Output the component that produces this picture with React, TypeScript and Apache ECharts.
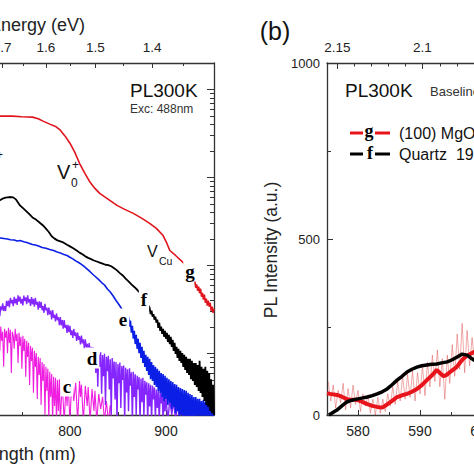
import React, { useEffect, useRef } from "react";
import * as echarts from "echarts";

const HC = 1239.84; // eV·nm
const OX = 300; // chart is shifted left so the cropped panels line up

// ---------- panel (a) axes ----------
const WL_A_LABELS = [800, 900];
const WL_A_MAJOR = [600, 700, 800, 900];
const WL_A_MINOR = [550, 650, 750, 850];
const EV_A_MAJOR = [1.7, 1.6, 1.5, 1.4];
const EV_A_MINOR = [1.65, 1.55, 1.45, 1.35];
const LOG_MAJOR = [10, 100, 1000, 10000];
const LOG_MINOR = [3, 4, 5, 6, 7, 8, 9, 20, 30, 40, 50, 60, 70, 80, 90, 200, 300, 400, 500, 600, 700, 800, 900, 2000, 3000, 4000, 5000, 6000, 7000, 8000, 9000];

// ---------- panel (a) spectra: [wavelength nm, PL counts] ----------
const PL_C: [number, number][] = [
  [720, 18.1], [721, 12.2], [722, 19.6], [723, 15.5], [724, 8.7], [725, 18.6], [726, 16.7], [727, 10.7], [728, 20.2], [729, 13.9],
  [730, 17.6], [731, 7.05], [732, 19.1], [733, 15.1], [734, 18.1], [735, 10.1], [736, 19.6], [737, 13.2], [738, 18.6], [739, 6.0],
  [740, 17.6], [741, 15.9], [742, 11.3], [743, 19.1], [744, 13.9], [745, 16.7], [746, 7.8], [747, 17.2], [748, 12.2], [749, 15.5],
  [750, 6.7], [751, 15.9], [752, 10.7], [753, 14.7], [754, 5.45], [755, 13.9], [756, 9.15], [757, 13.2], [758, 4.4], [759, 12.2],
  [760, 8.24], [761, 11.6], [762, 3.57], [763, 10.7], [764, 7.05], [765, 10.1], [766, 3.05], [767, 9.15], [768, 5.7], [769, 8.9],
  [770, 2.6], [771, 8.0], [772, 4.88], [773, 7.6], [774, 2.0], [775, 7.05], [776, 3.76], [777, 6.7], [778, 1.7], [779, 6.2],
  [780, 3.21], [781, 5.85], [782, 1.7], [783, 5.45], [784, 2.54], [785, 5.3], [786, 1.7], [787, 5.0], [788, 2.22], [789, 5.1],
  [790, 1.7], [792, 4.65], [794, 1.7], [796, 4.28], [797, 2.54], [798, 4.88], [800, 1.7], [802, 5.1], [804, 2.89], [806, 4.65],
  [808, 1.7], [810, 4.88], [811, 3.21], [812, 4.4], [814, 1.7], [816, 4.28], [818, 2.54], [819, 4.17], [821, 1.7], [823, 3.95],
  [825, 2.22], [826, 3.76], [828, 1.7], [830, 3.47], [832, 2.34], [834, 3.21], [836, 1.7], [838, 2.89], [840, 1.7], [842, 2.6],
  [844, 1.7]
];

const PL_D: [number, number][] = [
  [720, 27.4], [721, 23.4], [722, 28.7], [723, 24.5], [724, 31.9], [725, 27.6], [726, 30.7], [727, 26.6], [728, 34.3], [729, 31.0],
  [730, 37.1], [731, 30.4], [732, 34.5], [733, 30.4], [734, 39.6], [735, 34.6], [736, 39.8], [737, 33.5], [738, 42.9], [739, 37.2],
  [740, 40.7], [741, 34.5], [742, 44.0], [743, 37.2], [744, 42.1], [745, 35.6], [746, 45.8], [747, 38.9], [748, 44.2], [749, 36.8],
  [750, 41.7], [751, 35.2], [752, 45.4], [753, 39.3], [754, 43.4], [755, 36.4], [756, 45.9], [757, 38.0], [758, 41.4], [759, 34.8],
  [760, 43.8], [761, 36.2], [762, 41.7], [763, 34.0], [764, 42.8], [765, 35.8], [766, 38.6], [767, 31.4], [768, 39.2], [769, 32.9],
  [770, 38.7], [771, 31.0], [772, 34.5], [773, 29.0], [774, 36.6], [775, 30.9], [776, 33.1], [777, 27.2], [778, 33.2], [779, 27.8],
  [780, 30.7], [781, 24.4], [782, 31.2], [783, 25.4], [784, 27.5], [785, 23.1], [786, 28.5], [787, 23.9], [788, 25.8], [789, 21.0],
  [790, 26.0], [791, 20.9], [792, 24.0], [793, 19.2], [794, 23.9], [795, 19.5], [796, 21.1], [797, 17.1], [798, 21.1], [799, 17.5],
  [800, 20.6], [801, 16.2], [802, 18.3], [803, 15.0], [804, 19.0], [805, 15.9], [806, 17.4], [807, 13.9], [808, 17.3], [809, 14.3],
  [810, 15.7], [811, 12.7], [812, 16.0], [813, 13.0], [814, 14.5], [815, 11.5], [816, 14.5], [817, 11.6], [818, 12.9], [819, 10.5],
  [820, 13.1], [821, 10.8], [822, 11.9], [823, 9.7], [824, 11.8], [825, 9.1], [826, 10.2], [827, 6.0], [828, 10.9], [829, 4.2],
  [830, 9.8], [831, 7.1], [832, 10.3], [833, 3.5], [834, 9.6], [835, 5.5], [836, 9.9], [837, 2.6], [838, 9.2], [839, 6.3],
  [840, 9.4], [841, 3.9], [842, 8.6], [843, 2.0], [844, 8.9], [845, 5.2], [846, 8.1], [847, 3.0], [848, 8.0], [849, 1.7],
  [850, 7.6], [851, 4.6], [852, 7.9], [853, 2.4], [854, 7.2], [855, 5.0], [856, 7.3], [857, 1.7], [858, 6.9], [859, 3.6],
  [860, 6.6], [861, 2.2], [862, 6.8], [863, 4.3], [864, 6.1], [865, 1.7], [866, 6.2], [867, 3.2], [868, 5.8], [869, 2.0],
  [870, 5.6], [871, 3.9], [872, 5.4], [873, 1.7], [874, 5.2], [875, 2.8], [876, 5.3], [877, 1.9], [878, 4.9], [879, 3.4],
  [880, 4.7], [881, 1.7], [882, 4.6], [883, 2.5], [884, 4.4], [885, 1.7], [886, 4.3], [887, 3.0], [888, 4.1], [889, 1.8],
  [890, 3.9], [891, 2.4], [892, 3.8], [893, 1.7], [894, 3.6], [895, 2.7], [896, 3.5], [897, 1.7], [898, 3.3], [899, 2.2],
  [900, 3.2], [902, 1.7], [904, 3.05], [906, 2.0], [908, 2.9], [910, 1.7], [912, 2.7], [914, 1.8], [916, 2.5], [918, 1.7],
  [920, 2.35], [922, 1.7], [924, 2.2], [926, 1.7], [928, 2.1], [930, 1.7]
];

const PL_E: [number, number][] = [
  [720, 214], [724, 210], [727, 206], [731, 203], [735, 200], [738, 196], [742, 195], [745, 190], [748, 192], [752, 186],
  [755, 182], [758, 178], [761, 173], [765, 170], [768, 165], [771, 160], [775, 157], [779, 152], [783, 148], [786, 143],
  [790, 139], [793, 134], [797, 130], [800, 124], [803, 119], [806, 113], [809, 108], [812, 103], [815, 97], [818, 91],
  [821, 85], [824, 79], [827, 74], [830, 69], [833, 64], [836, 60], [839, 54], [842, 50], [845, 45], [848, 40],
  [851, 36], [854, 32], [857, 29.8], [858, 24.9], [859, 28.0], [860, 22.4], [861, 26.2], [862, 20.2], [863, 23.6], [864, 17.2],
  [865, 20.7], [866, 14.7], [867, 18.1], [868, 12.8], [869, 16.3], [870, 11.3], [871, 14.7], [872, 10.1], [873, 13.2], [874, 8.9],
  [875, 11.9], [876, 7.8], [877, 10.7], [878, 7.05], [879, 9.65], [880, 6.35], [881, 9.15], [882, 5.7], [883, 8.7], [884, 5.1],
  [885, 8.0], [886, 4.88], [887, 7.4], [888, 4.4], [889, 7.05], [890, 4.17], [891, 6.7], [892, 3.76], [893, 6.35], [894, 3.57],
  [895, 6.0], [896, 3.21], [897, 5.85], [898, 2.89], [899, 5.57], [900, 3.05], [901, 5.3], [902, 2.6], [903, 5.1], [904, 2.75],
  [905, 4.88], [906, 2.34], [907, 4.75], [908, 2.47], [909, 4.5], [910, 2.1], [911, 4.4], [912, 2.22], [913, 4.17], [914, 1.9],
  [915, 4.05], [916, 2.0], [917, 3.95], [918, 1.7], [919, 3.85], [920, 1.9], [921, 3.76], [922, 1.7], [923, 3.57], [924, 1.8],
  [925, 3.47], [926, 1.7], [927, 3.38], [928, 1.8], [929, 3.21], [930, 1.7], [931, 3.21], [932, 1.8], [933, 3.05], [934, 1.7],
  [935, 3.05], [936, 1.7], [937, 2.89], [938, 1.7], [939, 2.97], [940, 1.7], [941, 2.82], [942, 1.7], [943, 2.75], [944, 1.7],
  [945, 2.75], [946, 1.7], [947, 2.6], [948, 1.7], [949, 2.6], [950, 1.7]
];

const PL_F: [number, number][] = [
  [720, 482], [724, 520], [727, 550], [730, 575], [733, 590], [737, 600], [741, 595], [744, 560], [748, 482], [752, 440],
  [755, 410], [758, 380], [761, 352], [765, 330], [768, 310], [772, 285], [775, 262], [778, 240], [781, 215], [784, 202],
  [787, 193], [790, 188], [793, 183], [797, 172], [800, 165], [803, 158], [807, 148], [810, 140], [813, 134], [816, 127],
  [819, 122], [822, 118], [825, 114], [828, 111], [831, 108], [834, 105], [837, 102], [840, 101], [843, 98], [846, 93],
  [849, 88], [852, 82], [855, 77], [858, 71], [861, 66], [864, 61], [867, 57], [870, 53], [873, 49], [876, 45],
  [879, 40], [881, 36], [883, 33.1], [884, 28.0], [885, 30.6], [886, 26.2], [887, 28.0], [888, 24.2], [889, 26.2], [890, 22.4],
  [891, 24.2], [892, 19.6], [893, 22.4], [894, 18.1], [895, 20.2], [896, 16.7], [897, 19.1], [898, 15.5], [899, 18.1], [900, 14.7],
  [901, 17.2], [902, 13.5], [903, 16.3], [904, 12.8], [905, 15.5], [906, 11.9], [907, 14.3], [908, 10.7], [909, 13.2], [910, 9.9],
  [911, 11.9], [912, 8.9], [913, 11.3], [914, 8.24], [915, 10.7], [916, 7.8], [917, 10.1], [918, 7.05], [919, 9.65], [920, 6.5],
  [921, 9.15], [922, 6.0], [923, 8.7], [924, 5.7], [925, 8.7], [926, 5.1], [927, 8.24], [928, 4.88], [929, 7.8], [930, 4.4],
  [931, 7.8], [932, 4.17], [933, 7.4], [934, 3.76], [935, 8.24], [936, 3.57], [937, 7.05], [938, 3.21], [939, 6.7], [940, 2.89],
  [941, 7.05], [942, 2.6], [943, 6.35], [944, 2.47], [945, 6.0], [946, 2.22], [947, 5.1], [948, 2.1], [949, 4.4], [950, 2.0]
];

const PL_G: [number, number][] = [
  [720, 5110], [727, 4980], [740, 4980], [750, 4900], [761, 4850], [767, 4650], [772, 4370], [779, 4040], [785, 3800], [790, 3450],
  [795, 2950], [800, 2450], [805, 1940], [810, 1450], [815, 1145], [821, 881], [826, 752], [831, 660], [840, 564], [849, 482],
  [857, 434], [866, 391], [875, 343], [883, 301], [890, 264], [897, 219], [901, 178], [904, 148], [910, 130], [918, 108],
  [925, 83], [930, 67.3], [931, 55.9], [932, 61.2], [933, 51.7], [934, 57.5], [935, 48.4], [936, 54.6], [937, 44.2], [938, 49.0],
  [939, 41.0], [940, 46.6], [941, 37.7], [942, 42.0], [943, 34.9], [944, 39.8], [945, 34.0], [946, 37.7], [947, 30.6], [948, 34.0],
  [949, 29.0], [950, 32.2]
];

// ---------- panel (b) axes ----------
const WL_B_LABELS = [580, 590, 600];
const WL_B_MINOR = [585, 595, 605];
const EV_B_MAJOR = [2.15, 2.1, 2.05];
const EV_B_MINOR = [2.14, 2.13, 2.12, 2.11, 2.09, 2.08, 2.07, 2.06];

// ---------- panel (b) spectra ----------
const B_RAW_G: [number, number][] = [
  [575.2, 95], [575.6, 40], [576.0, 85], [576.4, 20], [576.8, 70], [577.2, 35], [577.6, 90], [578.0, 15], [578.4, 75], [578.8, 20],
  [579.2, 85], [579.6, 30], [580.0, 70], [580.4, 10], [580.8, 60], [581.2, 25], [581.6, 55], [582.0, 5], [582.4, 45], [582.8, 0],
  [583.2, 50], [583.6, 5], [584.0, 45], [584.4, 10], [584.8, 60], [585.2, 25], [585.6, 80], [586.0, 30], [586.4, 95], [586.8, 40],
  [587.2, 110], [587.6, 45], [588.0, 115], [588.4, 50], [588.8, 125], [589.2, 40], [589.6, 120], [590.0, 60], [590.4, 140], [590.8, 55],
  [591.2, 150], [591.6, 80], [592.0, 170], [592.4, 95], [592.8, 185], [593.2, 80], [593.6, 160], [594.0, 45], [594.4, 170], [594.8, 90],
  [595.2, 200], [595.6, 110], [596.0, 230], [596.4, 130], [596.8, 260], [597.2, 120], [597.6, 240], [598.0, 140], [598.4, 220], [598.8, 150],
  [599.2, 230], [599.6, 160], [600.0, 210]
];

const B_SMOOTH_G: [number, number][] = [
  [575.0, 62], [575.5, 60], [576.6, 57], [577.4, 52], [578.2, 45], [579.0, 43], [579.8, 43], [580.6, 38], [581.5, 31], [582.3, 26],
  [583.1, 23], [583.9, 21], [584.7, 30], [585.5, 40], [586.3, 51], [587.1, 56], [587.9, 60], [588.7, 66], [589.5, 74], [590.3, 85],
  [591.1, 99], [591.9, 112], [592.7, 128], [593.3, 118], [593.8, 110], [594.3, 114], [594.7, 120], [595.3, 128], [595.9, 136], [596.5, 150],
  [597.1, 162], [597.6, 168], [598.1, 173], [598.7, 179], [599.4, 185], [600.0, 190]
];

const B_F: [number, number][] = [
  [575.3, 0], [576.6, 14], [577.4, 26], [578.2, 37], [579.0, 42], [579.8, 45], [580.6, 48], [581.5, 51], [582.3, 55], [583.1, 60],
  [583.9, 66], [584.7, 74], [585.5, 86], [586.3, 99], [587.1, 110], [587.9, 122], [588.7, 130], [589.5, 136], [590.3, 140], [591.1, 142],
  [591.9, 144], [592.7, 145], [593.5, 148], [594.4, 151], [595.2, 157], [596.0, 165], [596.8, 173], [597.6, 170], [598.2, 162], [598.7, 156],
  [599.5, 150], [600.0, 148]
];

const SANS = 'Arial, "Liberation Sans", sans-serif';
const SERIF = '"Liberation Serif", "Times New Roman", serif';
const AXIS_COLOR = "#333";
const TXT = "#222";

const evToNm = (e: number) => HC / e;

function tickAxis(extra: any) {
  return {
    type: "value",
    axisLine: { show: false, onZero: false },
    axisLabel: { show: false },
    splitLine: { show: false },
    ...extra,
  };
}

export default function App() {
  const ref = useRef<HTMLDivElement>(null);

  useEffect(() => {
    if (!ref.current) return;
    const chart = echarts.init(ref.current, null, { renderer: "svg" });

    const axisLineStyle = { color: AXIS_COLOR, width: 1.3 };
    const labelStyle = { color: TXT, fontFamily: SANS };

    const txt = (text: string, x: number, y: number, font: string, fill = "#111", align = "left", extra: any = {}) => ({
      type: "text",
      x: x + OX,
      y,
      z: 100,
      style: {
        text,
        font,
        fill,
        align,
        verticalAlign: "middle",
        textAlign: align,
        textVerticalAlign: "middle",
        ...extra,
      },
    });
    const seg = (x1: number, x2: number, y: number, stroke: string) => ({
      type: "line",
      z: 100,
      shape: { x1: x1 + OX, y1: y, x2: x2 + OX, y2: y },
      style: { stroke, lineWidth: 3 },
    });
    const labelBox = { backgroundColor: "#fff", padding: [1, 2, 1, 2] };

    const option: any = {
      animation: false,
      backgroundColor: "#fff",
      grid: [
        { left: 101, top: 63, width: 413, height: 352 },
        { left: 627, top: 63, width: 217, height: 352 },
      ],
      xAxis: [
        {
          gridIndex: 0, type: "value", position: "bottom", min: 520, max: 950,
          axisLine: { onZero: false, lineStyle: axisLineStyle },
          axisTick: { inside: true, length: 5, customValues: WL_A_MAJOR, lineStyle: { color: AXIS_COLOR } },
          axisLabel: { ...labelStyle, fontSize: 14, margin: 9, customValues: WL_A_LABELS },
          splitLine: { show: false },
          name: "Wavelength (nm)", nameLocation: "middle", nameGap: 30,
          nameTextStyle: { fontSize: 18, color: TXT, fontFamily: SANS },
        },
        tickAxis({ gridIndex: 0, position: "bottom", min: 520, max: 950,
          axisTick: { inside: true, length: 3, customValues: WL_A_MINOR, lineStyle: { color: AXIS_COLOR } } }),
        {
          gridIndex: 0, type: "value", position: "top", min: 520, max: 950,
          axisLine: { onZero: false, lineStyle: axisLineStyle },
          axisTick: { inside: true, length: 5, customValues: EV_A_MAJOR.map(evToNm), lineStyle: { color: AXIS_COLOR } },
          axisLabel: {
            ...labelStyle, fontSize: 13.5, margin: 9, customValues: EV_A_MAJOR.map(evToNm),
            formatter: (v: number) => (HC / v).toFixed(1),
          },
          splitLine: { show: false },
          name: "Energy (eV)", nameLocation: "middle", nameGap: 29,
          nameTextStyle: { fontSize: 18, color: TXT, fontFamily: SANS, padding: [0, 0, 0, 59] },
        },
        tickAxis({ gridIndex: 0, position: "top", min: 520, max: 950,
          axisTick: { inside: true, length: 3, customValues: EV_A_MINOR.map(evToNm), lineStyle: { color: AXIS_COLOR } } }),
        {
          gridIndex: 1, type: "value", position: "bottom", min: 575, max: 610,
          axisLine: { onZero: false, lineStyle: axisLineStyle },
          axisTick: { inside: true, length: 5, customValues: WL_B_LABELS, lineStyle: { color: AXIS_COLOR } },
          axisLabel: { ...labelStyle, fontSize: 14, margin: 9, customValues: WL_B_LABELS },
          splitLine: { show: false },
        },
        tickAxis({ gridIndex: 1, position: "bottom", min: 575, max: 610,
          axisTick: { inside: true, length: 3, customValues: WL_B_MINOR, lineStyle: { color: AXIS_COLOR } } }),
        {
          gridIndex: 1, type: "value", position: "top", min: 575, max: 610,
          axisLine: { onZero: false, lineStyle: axisLineStyle },
          axisTick: { inside: true, length: 6, customValues: EV_B_MAJOR.map(evToNm), lineStyle: { color: AXIS_COLOR } },
          axisLabel: {
            ...labelStyle, fontSize: 13.5, margin: 9, customValues: EV_B_MAJOR.map(evToNm),
            formatter: (v: number) => String(parseFloat((HC / v).toFixed(2))),
          },
          splitLine: { show: false },
        },
        tickAxis({ gridIndex: 1, position: "top", min: 575, max: 610,
          axisTick: { inside: true, length: 3.5, customValues: EV_B_MINOR.map(evToNm), lineStyle: { color: AXIS_COLOR } } }),
      ],
      yAxis: [
        {
          gridIndex: 0, type: "log", logBase: 10, min: 2, max: 20000, position: "right",
          axisLine: { show: true, lineStyle: axisLineStyle },
          axisTick: { inside: true, length: 7, customValues: LOG_MAJOR, lineStyle: { color: AXIS_COLOR } },
          axisLabel: { show: false },
          splitLine: { show: false },
        },
        {
          gridIndex: 0, type: "log", logBase: 10, min: 2, max: 20000, position: "right",
          axisLine: { show: false },
          axisTick: { inside: true, length: 4, customValues: LOG_MINOR, lineStyle: { color: AXIS_COLOR } },
          axisLabel: { show: false },
          splitLine: { show: false },
        },
        {
          gridIndex: 1, type: "value", min: 0, max: 1000, interval: 500, position: "left",
          axisLine: { show: true, lineStyle: axisLineStyle },
          axisTick: { inside: true, length: 6, lineStyle: { color: AXIS_COLOR } },
          minorTick: { show: true, splitNumber: 2, length: 4, lineStyle: { color: AXIS_COLOR } },
          axisLabel: { ...labelStyle, fontSize: 13, margin: 7, formatter: (v: number) => String(v) },
          splitLine: { show: false },
          name: "PL Intensity (a.u.)", nameLocation: "middle", nameGap: 47, nameRotate: 90,
          nameTextStyle: { fontSize: 17.5, color: TXT, fontFamily: SANS, padding: [0, 22, 0, 0] },
        },
      ],
      series: [
        { type: "line", xAxisIndex: 0, yAxisIndex: 0, data: PL_C, showSymbol: false, lineStyle: { color: "#f01ee0", width: 1.1 } },
        { type: "line", xAxisIndex: 0, yAxisIndex: 0, data: PL_D, showSymbol: false, lineStyle: { color: "#8626ff", width: 1.4 } },
        { type: "line", xAxisIndex: 0, yAxisIndex: 0, data: PL_E, showSymbol: false, lineStyle: { color: "#0a1ee6", width: 1.6 } },
        { type: "line", xAxisIndex: 0, yAxisIndex: 0, data: PL_F, showSymbol: false, lineStyle: { color: "#000", width: 1.8 } },
        { type: "line", xAxisIndex: 0, yAxisIndex: 0, data: PL_G, showSymbol: false, lineStyle: { color: "#e0141c", width: 1.6 } },
        { type: "line", xAxisIndex: 4, yAxisIndex: 2, data: B_RAW_G, showSymbol: false, lineStyle: { color: "rgba(220,60,60,0.55)", width: 0.8 } },
        { type: "line", xAxisIndex: 4, yAxisIndex: 2, data: B_SMOOTH_G, showSymbol: false, lineStyle: { color: "#e8141c", width: 4 } },
        { type: "line", xAxisIndex: 4, yAxisIndex: 2, data: B_F, showSymbol: false, lineStyle: { color: "#000", width: 3.5 } },
      ],
      graphic: [
        // panel (a)
        txt("PL300K", 130, 90, `19px ${SANS}`),
        txt("Exc: 488nm", 130, 109, `12px ${SANS}`, "#333"),
        txt("V", -16, 163, `20px ${SANS}`),
        txt("+", -4, 155, `12px ${SANS}`),
        txt("V", 57, 172, `20px ${SANS}`),
        txt("+", 72, 165, `12px ${SANS}`),
        txt("0", 71, 183, `12px ${SANS}`),
        txt("V", 147, 251, `16px ${SANS}`),
        txt("Cu", 159, 261, `10.5px ${SANS}`),
        txt("g", 190, 271, `bold 19px ${SERIF}`, "#000", "center", labelBox),
        txt("f", 144, 299, `bold 19px ${SERIF}`, "#000", "center", labelBox),
        txt("e", 123, 319, `bold 19px ${SERIF}`, "#000", "center", labelBox),
        txt("d", 92, 358, `bold 19px ${SERIF}`, "#000", "center", labelBox),
        txt("c", 67, 386, `bold 19px ${SERIF}`, "#000", "center", labelBox),
        // panel (b)
        txt("(b)", 275, 31, `25px ${SANS}`, "#111", "center"),
        txt("PL300K", 345, 90, `19px ${SANS}`),
        txt("Baseline", 430, 91, `13px ${SANS}`, "#333"),
        seg(350, 363, 133, "#e8141c"),
        txt("g", 369, 131, `bold 18px ${SERIF}`, "#000", "center"),
        seg(375, 390, 133, "#e8141c"),
        txt("(100) MgO", 399, 133, `16px ${SANS}`),
        seg(350, 363, 154, "#000"),
        txt("f", 370, 153, `bold 18px ${SERIF}`, "#000", "center"),
        seg(375, 390, 154, "#000"),
        txt("Quartz  19", 399, 154, `16px ${SANS}`),
      ],
    };

    chart.setOption(option);
    return () => chart.dispose();
  }, []);

  return (
    <div style={{ position: "fixed", left: 0, top: 0, width: 474, height: 474, overflow: "hidden", background: "#fff" }}>
      <div ref={ref} style={{ position: "absolute", left: -OX, top: 0, width: 900, height: 474 }} />
    </div>
  );
}
